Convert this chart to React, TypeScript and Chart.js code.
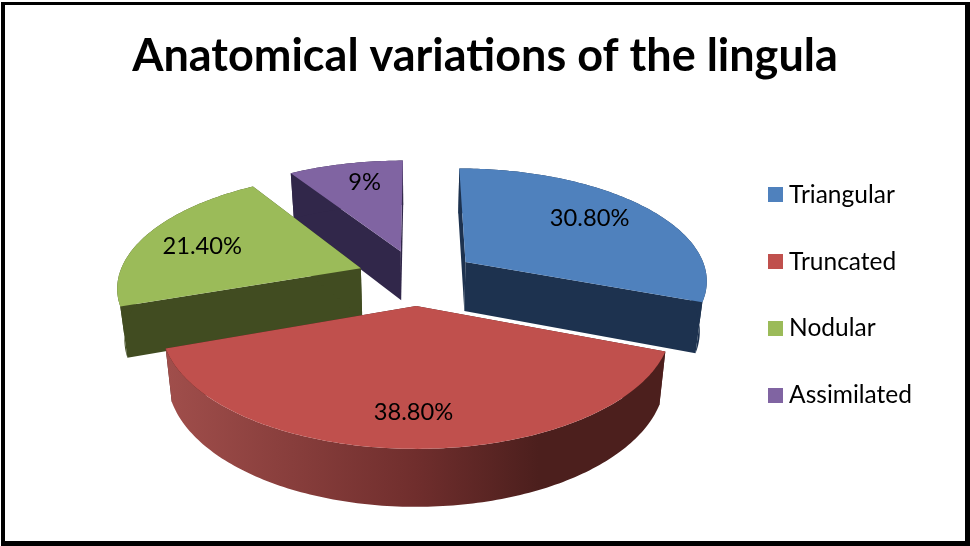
import React, { useEffect, useRef } from "react";
import { Chart, registerables } from "chart.js";

Chart.register(...registerables);

const TITLE = "Anatomical variations of the lingula";
const categories = ["Triangular", "Truncated", "Nodular", "Assimilated"];
const shares = [30.8, 38.8, 21.4, 9];
const shareLabels = ["30.80%", "38.80%", "21.40%", "9%"];

const faceColors = ["#4f81bd", "#c0504d", "#9bbb59", "#8064a2"];
const wallColors = ["#1d324f", "#4c1f1d", "#414c21", "#31274a"];

// Perspective of the tilted disc
const CX = 417;
const CY = 277.3;
const TILT = 0.447;
const PERSPECTIVE = 0.0006;
const X_SCALE = 0.97;

type Pt = [number, number];

function projectTop(u: number, v: number): Pt {
  const s = 1 / (1 - PERSPECTIVE * v);
  return [CX + X_SCALE * u * s, CY + TILT * v * s];
}

function projectBottom(u: number, v: number): Pt {
  const [x, y] = projectTop(u, v);
  return [CX + (x - CX) * 0.976, y + 45 + 0.047 * (y - 173)];
}

function fillPoly(ctx: CanvasRenderingContext2D, pts: Pt[], fill: string | CanvasGradient) {
  ctx.beginPath();
  pts.forEach(([x, y], i) => (i ? ctx.lineTo(x, y) : ctx.moveTo(x, y)));
  ctx.closePath();
  ctx.fillStyle = fill;
  ctx.fill();
}

// Small placement corrections for the share labels
const labelNudge: Pt[] = [
  [-6, -2],
  [0, 9],
  [-3, 3],
  [5, -4],
];

const pie3d = {
  id: "pie3d",
  beforeDatasetsDraw(chart: any) {
    const { ctx } = chart;
    const arcs = chart.getDatasetMeta(0).data;
    const paintOrder = [3, 2, 0, 1];
    ctx.save();
    for (const i of paintOrder) {
      const arc = arcs[i];
      const r = arc.outerRadius;
      const a0 = arc.startAngle + Math.PI / 2;
      const a1 = arc.endAngle + Math.PI / 2;
      const mid = (a0 + a1) / 2;
      const off = arc.options.offset;
      const u0 = off * Math.sin(mid);
      const v0 = -off * Math.cos(mid);

      const rimUV: Pt[] = [];
      const steps = Math.ceil(((a1 - a0) * 180) / Math.PI);
      for (let s = 0; s <= steps; s++) {
        const t = a0 + ((a1 - a0) * s) / steps;
        rimUV.push([u0 + r * Math.sin(t), v0 - r * Math.cos(t)]);
      }
      const rimTop = rimUV.map(([u, v]) => projectTop(u, v));
      const rimBottom = rimUV.map(([u, v]) => projectBottom(u, v));
      const apexTop = projectTop(u0, v0);
      const apexBottom = projectBottom(u0, v0);
      const wall = wallColors[i];

      // Radial cut faces
      fillPoly(ctx, [apexTop, rimTop[0], rimBottom[0], apexBottom], wall);
      fillPoly(
        ctx,
        [apexTop, rimTop[rimTop.length - 1], rimBottom[rimBottom.length - 1], apexBottom],
        wall
      );

      // Curved outer wall; the largest slice carries a left-to-right shade
      let outer: string | CanvasGradient = wall;
      if (i === 1) {
        const g = ctx.createLinearGradient(168, 0, 662, 0);
        g.addColorStop(0, "#a04e4b");
        g.addColorStop(0.5, "#702e2d");
        g.addColorStop(0.75, "#4c1f1d");
        g.addColorStop(1, "#4c1f1d");
        outer = g;
      }
      fillPoly(ctx, [...rimTop, ...rimBottom.slice().reverse()], outer);

      // Upper face
      fillPoly(ctx, [apexTop, ...rimTop], faceColors[i]);
    }

    // Share labels
    ctx.fillStyle = "#000";
    ctx.font = "23.7px Lato";
    ctx.textAlign = "center";
    ctx.textBaseline = "middle";
    arcs.forEach((arc: any, i: number) => {
      const mid = (arc.startAngle + arc.endAngle) / 2 + Math.PI / 2;
      const off = arc.options.offset;
      const rr = arc.outerRadius * 0.72;
      const [x, y] = projectTop(
        (off + rr) * Math.sin(mid),
        -(off + rr) * Math.cos(mid)
      );
      ctx.fillText(shareLabels[i], x + labelNudge[i][0], y + labelNudge[i][1]);
    });
    ctx.restore();
    return false;
  },
  afterDraw(chart: any) {
    // Heavy black frame
    const { ctx } = chart;
    ctx.save();
    ctx.fillStyle = "#000";
    ctx.fillRect(1, 2, 968, 3);
    ctx.fillRect(1, 2, 4, 544);
    ctx.fillRect(965, 2, 5, 544);
    ctx.fillRect(1, 541, 969, 5);
    ctx.restore();
  },
};

function swatch(color: string): HTMLCanvasElement {
  const c = document.createElement("canvas");
  c.width = 15;
  c.height = 15;
  const g = c.getContext("2d")!;
  g.fillStyle = color;
  g.fillRect(0, 0, 15, 15);
  return c;
}

export default function App() {
  const ref = useRef<HTMLCanvasElement>(null);
  useEffect(() => {
    const chart = new Chart(ref.current!, {
      type: "pie",
      data: {
        labels: categories,
        datasets: [
          {
            data: shares,
            backgroundColor: faceColors,
            borderWidth: 0,
            offset: 62,
            radius: 250,
          },
        ],
      },
      options: {
        responsive: false,
        animation: false,
        layout: { padding: { left: 48, right: 48, bottom: 59, top: 0 } },
        plugins: {
          tooltip: { enabled: false },
          title: {
            display: true,
            text: TITLE,
            color: "#000",
            font: { family: "Lato", size: 45, weight: "bold" },
            padding: { top: 29, bottom: 20 },
          },
          legend: {
            position: "right",
            fullSize: false,
            labels: {
              color: "#000",
              font: { family: "Lato", size: 24.5 },
              usePointStyle: true,
              pointStyleWidth: 3,
              padding: 42.2,
              generateLabels: () =>
                categories.map((text, i) => ({
                  text,
                  index: i,
                  fontColor: "#000",
                  pointStyle: swatch(faceColors[i]),
                  lineWidth: 0,
                })),
            },
          },
        },
      },
      plugins: [pie3d],
    } as any);
    return () => chart.destroy();
  }, []);
  return (
    <canvas
      ref={ref}
      width={970}
      height={546}
      style={{ position: "fixed", left: 0, top: 0, display: "block" }}
    />
  );
}
